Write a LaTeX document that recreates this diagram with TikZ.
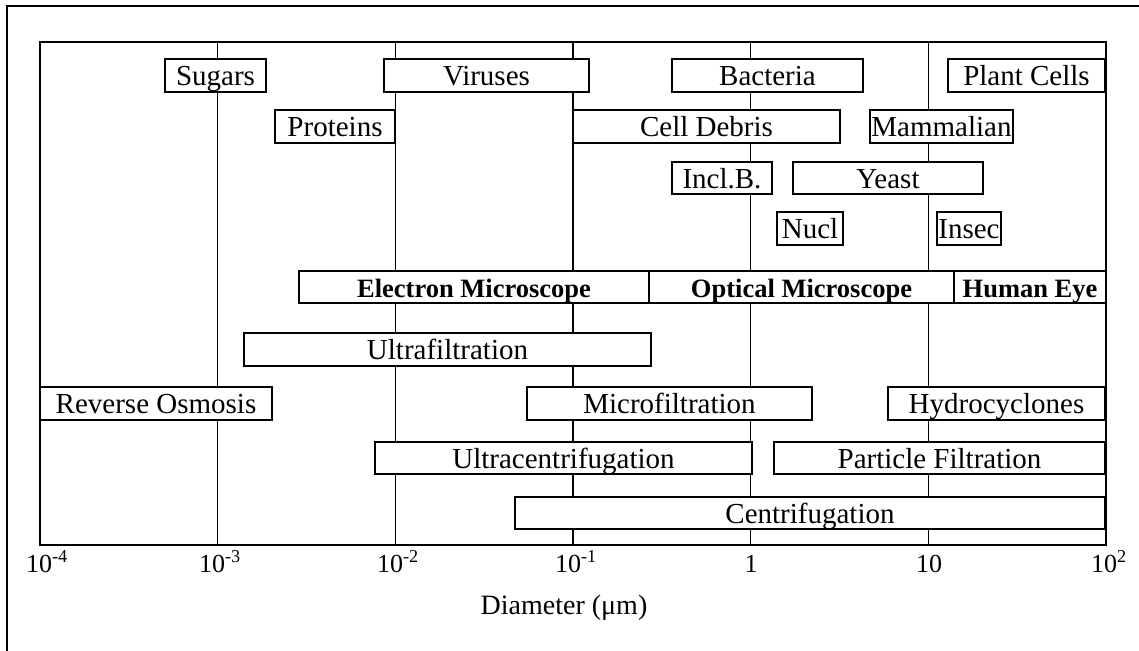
\documentclass[tikz,border=0pt]{standalone}
\usepackage{fontspec}
\setmainfont{Liberation Serif}
\begin{document}
\begin{tikzpicture}[x=1pt,y=-1pt,
  box/.style={draw, line width=2.2pt, fill=white, inner sep=0pt,
    text height=26pt, text depth=6pt, font=\fontsize{29}{32}\selectfont},
  boldbox/.style={box, font=\fontsize{26.5}{30}\selectfont\bfseries},
  grid/.style={line width=1.4pt},
  ticklab/.style={anchor=base, inner sep=0pt, font=\fontsize{26}{28}\selectfont}]
\useasboundingbox (0,0) rectangle (1139,650);
% outer border
\draw[line width=2pt] (7,652) -- (7,6) -- (1141,6);
% decade grid lines
\foreach \gx in {217.7,395.3,573,750.7,928.3}
  \draw[grid] (\gx,42) -- (\gx,545);
% plot frame
\draw[line width=2.4pt] (40,42) rectangle (1106,545);
% size ranges of particles
\node[box, minimum width=101pt, minimum height=33pt] (sugars) at (215.5,75.5) {Sugars};
\node[box, minimum width=205pt, minimum height=33pt] (viruses) at (486.5,75.5) {Viruses};
\node[box, minimum width=191pt, minimum height=33pt] (bacteria) at (767.5,75.5) {Bacteria};
\node[box, minimum width=157pt, minimum height=33pt] (plant) at (1026.5,75.5) {Plant Cells};
\node[box, minimum width=120pt, minimum height=33pt] (proteins) at (335,126.5) {Proteins};
\node[box, minimum width=267pt, minimum height=33pt] (debris) at (706.5,126.5) {Cell Debris};
\node[box, minimum width=143pt, minimum height=33pt] (mammal) at (941.5,126.5) {Mammalian};
\node[box, minimum width=100pt, minimum height=32pt] (inclb) at (722,178) {Incl.B.};
\node[box, minimum width=190pt, minimum height=32pt] (yeast) at (888,178) {Yeast};
\node[box, minimum width=66pt, minimum height=33pt] (nucl) at (810,228.5) {Nucl};
\node[box, minimum width=64pt, minimum height=33pt] (insec) at (969,228.5) {Insec};
% observation ranges
\node[boldbox, minimum width=350pt, minimum height=32pt] (electron) at (474,287) {Electron Microscope};
\node[boldbox, minimum width=305pt, minimum height=32pt] (optical) at (801.5,287) {Optical Microscope};
\node[boldbox, minimum width=152pt, minimum height=32pt] (eye) at (1030,287) {Human Eye};
% separation ranges
\node[box, minimum width=407pt, minimum height=33pt] (ultraf) at (447.5,349.5) {Ultrafiltration};
\node[box, minimum width=232pt, minimum height=33pt] (ro) at (156,403.5) {Reverse Osmosis};
\node[box, minimum width=285pt, minimum height=33pt] (microf) at (669.5,403.5) {Microfiltration};
\node[box, minimum width=217pt, minimum height=33pt] (hydro) at (996.5,403.5) {Hydrocyclones};
\node[box, minimum width=377pt, minimum height=32pt] (ultrac) at (563.5,458) {Ultracentrifugation};
\node[box, minimum width=331pt, minimum height=32pt] (partf) at (939.5,458) {Particle Filtration};
\node[box, minimum width=590pt, minimum height=32pt] (centrif) at (810,513) {Centrifugation};
% axis labels
\node[ticklab] (t0) at (47,572) {10\textsuperscript{-4}};
\node[ticklab] (t1) at (220,572) {10\textsuperscript{-3}};
\node[ticklab] (t2) at (398,572) {10\textsuperscript{-2}};
\node[ticklab] (t3) at (576,572) {10\textsuperscript{-1}};
\node[ticklab] (t4) at (751,572) {1};
\node[ticklab] (t5) at (929,572) {10};
\node[ticklab] (t6) at (1109,572) {10\textsuperscript{2}};
\node[font=\fontsize{28}{30}\selectfont] (xlabel) at (564,608) {Diameter (μm)};
\end{tikzpicture}
\end{document}
